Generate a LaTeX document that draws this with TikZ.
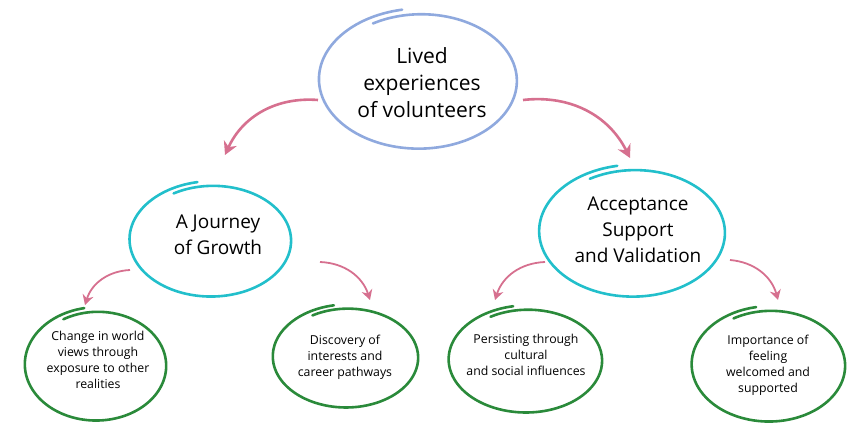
\documentclass[tikz,border=0pt]{standalone}
\usetikzlibrary{arrows.meta}
\usepackage{fontspec}
\setmainfont{Open Sans}
\definecolor{cblue}{HTML}{8FA9DE}
\definecolor{ccyan}{HTML}{22BFCB}
\definecolor{cgreen}{HTML}{2A8A3A}
\definecolor{cpink}{HTML}{D6708F}
% hand-drawn open loop: centre x, centre y, rx, ry, colour
\newcommand\handloop[5]{%
  \draw[#5, line width=2.6pt, line cap=round] plot[smooth, domain=240:620, samples=80]
    ({#1 + #3*(0.96+0.09*(\x-240)/380)*cos(\x)}, {#2 + #4*(0.96+0.09*(\x-240)/380)*sin(\x)});}
\begin{document}
\begin{tikzpicture}[x=1pt, y=-1pt,
  big/.style={align=center, font=\fontsize{21}{27}\selectfont},
  mid/.style={align=center, font=\fontsize{19}{26}\selectfont},
  small/.style={align=center, font=\fontsize{12.3}{16}\selectfont},
  arr/.style={cpink, line width=2.6pt, -{Stealth[length=13pt,width=14pt]}}]
\useasboundingbox (0,0) rectangle (857,435);
\node[big] (top) at (422,83) {Lived\\experiences\\of volunteers};
\node[mid] (jg) at (218,235) {A Journey\\of Growth};
\node[mid] (asv) at (638,230) {Acceptance\\Support\\and Validation};
\node[small] (b1) at (98,360) {Change in world\\views through\\exposure to other\\realities};
\node[small] (b2) at (345,357) {Discovery of\\interests and\\career pathways};
\node[small] (b3) at (526,355) {Persisting through\\cultural\\and social influences};
\node[small] (b4) at (768,365) {Importance of\\feeling\\welcomed and\\supported};
\handloop{420}{80}{98}{68}{cblue}
\handloop{212}{240}{80}{56}{ccyan}
\handloop{634}{232}{92}{64}{ccyan}
\handloop{97}{365}{70}{55}{cgreen}
\handloop{347}{357}{72}{50}{cgreen}
\handloop{527}{360}{76}{52}{cgreen}
\handloop{770}{365}{76}{56}{cgreen}
\coordinate (a1) at (318,100); \coordinate (a2) at (523,100);
\coordinate (e1) at (225,155); \coordinate (e2) at (630,158);
\coordinate (c1) at (130,270); \coordinate (c2) at (320,262);
\coordinate (c3) at (545,262); \coordinate (c4) at (730,260);
\coordinate (d1) at (85,305); \coordinate (d2) at (370,300);
\coordinate (d3) at (495,300); \coordinate (d4) at (778,300);
\draw[arr] (a1) to[bend right=35] (e1);
\draw[arr] (a2) to[bend left=35] (e2);
\draw[arr, line width=1.8pt, -{Stealth[length=10pt,width=11pt]}] (c1) to[bend right=35] (d1);
\draw[arr, line width=1.8pt, -{Stealth[length=10pt,width=11pt]}] (c2) to[bend left=35] (d2);
\draw[arr, line width=1.8pt, -{Stealth[length=10pt,width=11pt]}] (c3) to[bend right=35] (d3);
\draw[arr, line width=1.8pt, -{Stealth[length=10pt,width=11pt]}] (c4) to[bend left=35] (d4);
\end{tikzpicture}
\end{document}
